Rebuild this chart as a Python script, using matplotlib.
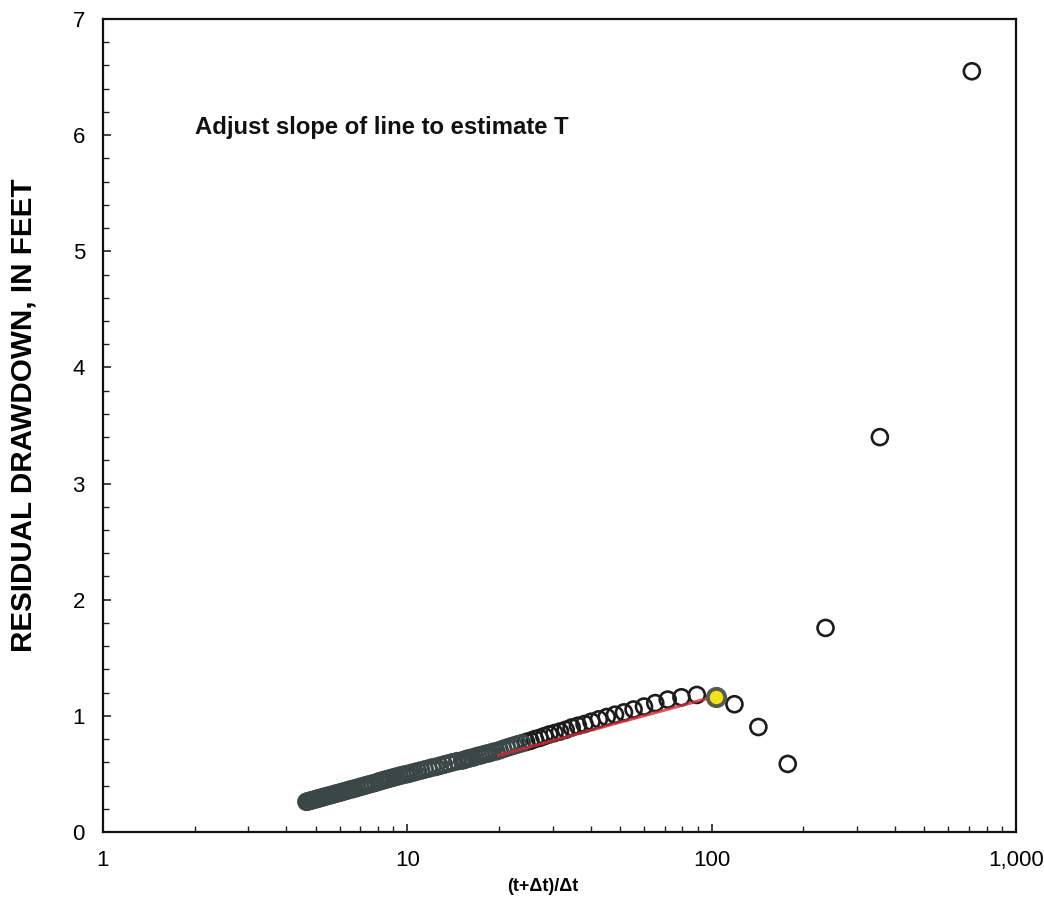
import matplotlib
matplotlib.use("Agg")
import matplotlib.pyplot as plt
from matplotlib.ticker import FixedLocator, LogLocator, MultipleLocator, FuncFormatter, NullFormatter

plt.rcParams['font.family'] = ['Liberation Sans', 'DejaVu Sans']

# (t+dt)/dt and residual drawdown (ft)
ratio = [716.0, 357.0, 236.7, 177.8, 142.4, 118.8,
         89.38, 79.56, 71.70, 65.27, 59.92, 55.38, 51.50, 48.13, 45.19, 42.59,
         40.28, 38.21, 36.35, 34.67, 33.14, 31.74, 30.46, 29.28, 28.19, 27.19,
         26.25, 25.38, 24.57, 23.81, 23.09, 22.42, 21.79, 21.20, 20.64, 20.11,
         19.61, 19.13, 18.68, 18.24, 17.83, 17.44, 17.07, 16.71, 16.37, 16.04,
         15.73, 15.43, 15.14,
         14.60, 14.09, 13.63, 13.19, 12.78, 12.40, 12.05, 11.71, 11.40, 11.10,
         10.82, 10.55, 10.30, 10.06, 9.84, 9.62, 9.42, 9.22, 9.03, 8.86,
         8.68, 8.52, 8.36, 8.21, 8.07,
         7.86, 7.67, 7.49, 7.31, 7.15, 6.99, 6.84, 6.70, 6.57, 6.44,
         6.32, 6.20, 6.09, 5.98, 5.88, 5.78, 5.68, 5.59, 5.50, 5.42,
         5.34, 5.26, 5.18, 5.11, 5.04, 4.97, 4.91, 4.84, 4.78, 4.72, 4.66]
drawdown = [6.55, 3.40, 1.757, 0.586, 0.904, 1.10,
            1.18, 1.16, 1.14, 1.11, 1.08, 1.055, 1.03, 1.01, 0.99, 0.97,
            0.95, 0.93, 0.915, 0.90, 0.88, 0.865, 0.852, 0.84, 0.825, 0.81,
            0.80, 0.785, 0.775, 0.765, 0.755, 0.745, 0.735, 0.725, 0.715, 0.705,
            0.695, 0.69, 0.68, 0.675, 0.668, 0.66, 0.655, 0.648, 0.64, 0.635,
            0.63, 0.622, 0.615,
            0.61, 0.60, 0.59, 0.58, 0.57, 0.56, 0.555, 0.545, 0.538, 0.53,
            0.523, 0.515, 0.508, 0.50, 0.495, 0.49, 0.483, 0.477, 0.47, 0.465,
            0.458, 0.452, 0.447, 0.44, 0.435,
            0.424, 0.417, 0.41, 0.402, 0.395, 0.388, 0.38, 0.374, 0.368, 0.362,
            0.356, 0.35, 0.344, 0.338, 0.333, 0.328, 0.322, 0.317, 0.312, 0.308,
            0.303, 0.298, 0.293, 0.289, 0.285, 0.28, 0.276, 0.272, 0.268, 0.264, 0.26]

# selected point (yellow)
sel_ratio = [103.0]
sel_drawdown = [1.163]

# straight-line fit
fit_ratio = [20.0, 96.0]
fit_drawdown = [0.660, 1.147]

xtick_vals = [1, 10, 100, 1000]
xtick_labels = ['1', '10', '100', '1,000']

fig = plt.figure(figsize=(10.44, 9.05), dpi=100)
ax = fig.add_axes([103 / 1044, 73 / 905, 913 / 1044, 813 / 905])

edge = ['#3b4747' if r < 24 else '#1c1c1c' for r in ratio]
ax.scatter(ratio, drawdown, s=11.5 ** 2, facecolors='none', edgecolors=edge,
           linewidths=1.9, zorder=3)
ax.plot(fit_ratio, fit_drawdown, color='#d42a36', lw=2.2, alpha=0.8, zorder=4)
ax.scatter(sel_ratio, sel_drawdown, s=12.5 ** 2, facecolors='#f2e21c',
           edgecolors='#5b5b4c', linewidths=2.8, zorder=5)

ax.set_xscale('log')
ax.set_xlim(1, 1000)
ax.set_ylim(0, 7)

ax.xaxis.set_major_locator(FixedLocator(xtick_vals))
ax.xaxis.set_major_formatter(FuncFormatter(lambda v, p: xtick_labels[xtick_vals.index(int(round(v)))] if int(round(v)) in xtick_vals else ''))
ax.xaxis.set_minor_locator(LogLocator(base=10, subs=range(2, 10)))
ax.xaxis.set_minor_formatter(NullFormatter())
ax.yaxis.set_major_locator(MultipleLocator(1))
ax.yaxis.set_minor_locator(MultipleLocator(0.2))

ax.tick_params(which='both', direction='in', top=False, right=False, color='#222')
ax.tick_params(which='major', length=6, width=1.2, labelsize=16)
ax.tick_params(which='minor', length=4, width=1.0)
ax.tick_params(axis='x', which='major', pad=13)
ax.tick_params(axis='y', which='major', pad=13)

for sp in ax.spines.values():
    sp.set_linewidth(1.6)
    sp.set_color('#111')

ax.set_xlabel('(t+\u0394t)/\u0394t', fontsize=13, fontweight='bold')
ax.xaxis.set_label_coords(0.482, -0.056)
ax.set_ylabel('RESIDUAL DRAWDOWN, IN FEET', fontsize=21.3, fontweight='bold')
ax.yaxis.set_label_coords(-0.072, 0.513)

ax.text(0.101, 0.866, 'Adjust slope of line to estimate T', transform=ax.transAxes,
        fontsize=17.2, fontweight='bold', va='center', ha='left', color='#111')

fig.savefig('out.png', dpi=100)
